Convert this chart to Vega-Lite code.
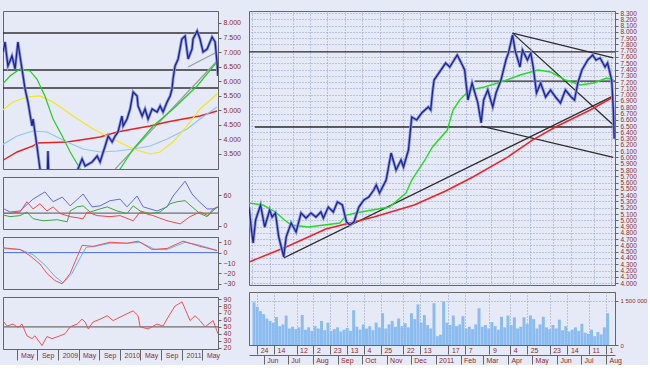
{
"$schema":"https://vega.github.io/schema/vega-lite/v6.json",
"background":"#e6eaf7",
"padding":{"left":1,"top":9,"right":0,"bottom":0},
"spacing":6,
"config":{
 "view":{"stroke":"#666666","strokeWidth":1},
 "axis":{"labelFont":"Liberation Sans","labelFontSize":7,"labelColor":"#8c2a2a","tickColor":"#666666","domainColor":"#666666","tickSize":3,"labelPadding":2,"grid":false,"labelOverlap":false}
},
"datasets":{
 "lp":[{"d":"2008-02-11","v":7000},{"d":"2008-02-23","v":7347},{"d":"2008-03-11","v":6523},{"d":"2008-04-04","v":6866},{"d":"2008-04-22","v":6420},{"d":"2008-05-09","v":7347},{"d":"2008-05-21","v":6866},{"d":"2008-06-02","v":6420},{"d":"2008-06-20","v":5732},{"d":"2008-07-07","v":5286},{"d":"2008-07-31","v":4461},{"d":"2008-08-06","v":4701},{"d":"2008-08-29","v":3774},{"d":"2008-09-16","v":2983},{"d":"2008-10-09","v":2500},{"d":"2008-10-27","v":2200},{"d":"2008-11-02","v":3600},{"d":"2008-11-08","v":2600},{"d":"2008-12-14","v":1900},{"d":"2009-01-25","v":1700},{"d":"2009-03-12","v":2200},{"d":"2009-04-17","v":2700},{"d":"2009-04-29","v":3000},{"d":"2009-05-22","v":3327},{"d":"2009-06-09","v":3087},{"d":"2009-07-20","v":3224},{"d":"2009-08-19","v":3430},{"d":"2009-09-05","v":3224},{"d":"2009-10-05","v":3774},{"d":"2009-10-23","v":4117},{"d":"2009-11-15","v":3911},{"d":"2009-12-03","v":4117},{"d":"2009-12-20","v":4255},{"d":"2010-01-12","v":4804},{"d":"2010-01-19","v":4461},{"d":"2010-02-11","v":4701},{"d":"2010-03-01","v":5045},{"d":"2010-03-19","v":5629},{"d":"2010-04-11","v":5492},{"d":"2010-04-17","v":5148},{"d":"2010-05-11","v":4804},{"d":"2010-05-28","v":5045},{"d":"2010-06-15","v":4701},{"d":"2010-07-09","v":5045},{"d":"2010-08-07","v":4942},{"d":"2010-08-25","v":5148},{"d":"2010-09-11","v":4942},{"d":"2010-10-05","v":5286},{"d":"2010-10-23","v":5492},{"d":"2010-11-03","v":5732},{"d":"2010-11-09","v":6076},{"d":"2010-11-21","v":6523},{"d":"2010-12-09","v":6763},{"d":"2010-12-31","v":7450},{"d":"2011-01-19","v":7553},{"d":"2011-02-06","v":6763},{"d":"2011-03-01","v":7107},{"d":"2011-03-07","v":7450},{"d":"2011-03-31","v":7725},{"d":"2011-04-17","v":7450},{"d":"2011-05-05","v":7004},{"d":"2011-05-29","v":7107},{"d":"2011-06-27","v":7519},{"d":"2011-07-15","v":7347},{"d":"2011-07-26","v":6660},{"d":"2011-08-01","v":6179}],
 "lma":[
  {"s":"MA1","d":"2008-01-24","v":5801},{"s":"MA1","d":"2008-03-23","v":6179},{"s":"MA1","d":"2008-05-21","v":6420},{"s":"MA1","d":"2008-07-19","v":6351},{"s":"MA1","d":"2008-08-29","v":6076},{"s":"MA1","d":"2008-10-15","v":5492},{"s":"MA1","d":"2008-12-02","v":4701},{"s":"MA1","d":"2009-01-25","v":4117},{"s":"MA1","d":"2009-03-13","v":3567},{"s":"MA1","d":"2009-05-11","v":2983},{"s":"MA1","d":"2009-07-08","v":2600},{"s":"MA1","d":"2009-10-17","v":2700},{"s":"MA1","d":"2010-01-01","v":2983},{"s":"MA1","d":"2010-03-19","v":3670},{"s":"MA1","d":"2010-07-15","v":4461},{"s":"MA1","d":"2010-11-09","v":5045},{"s":"MA1","d":"2011-03-31","v":5835},{"s":"MA1","d":"2011-07-26","v":6660},
  {"s":"MA2","d":"2008-01-24","v":4942},{"s":"MA2","d":"2008-04-10","v":5286},{"s":"MA2","d":"2008-07-01","v":5457},{"s":"MA2","d":"2008-09-16","v":5492},{"s":"MA2","d":"2008-12-02","v":5286},{"s":"MA2","d":"2009-03-30","v":4804},{"s":"MA2","d":"2009-07-26","v":4358},{"s":"MA2","d":"2009-11-21","v":4014},{"s":"MA2","d":"2010-03-19","v":3670},{"s":"MA2","d":"2010-06-27","v":3499},{"s":"MA2","d":"2010-08-25","v":3567},{"s":"MA2","d":"2010-11-09","v":3911},{"s":"MA2","d":"2011-01-31","v":4461},{"s":"MA2","d":"2011-04-17","v":5045},{"s":"MA2","d":"2011-07-26","v":5560},
  {"s":"MA3","d":"2008-01-24","v":3774},{"s":"MA3","d":"2008-05-04","v":4117},{"s":"MA3","d":"2008-08-06","v":4289},{"s":"MA3","d":"2008-10-27","v":4255},{"s":"MA3","d":"2009-02-23","v":3911},{"s":"MA3","d":"2009-05-28","v":3670},{"s":"MA3","d":"2009-09-05","v":3567},{"s":"MA3","d":"2009-12-15","v":3602},{"s":"MA3","d":"2010-03-19","v":3670},{"s":"MA3","d":"2010-06-27","v":3774},{"s":"MA3","d":"2010-10-05","v":4014},{"s":"MA3","d":"2011-01-31","v":4358},{"s":"MA3","d":"2011-04-17","v":4701},{"s":"MA3","d":"2011-07-26","v":5114},
  {"s":"MA4","d":"2008-01-24","v":3224},{"s":"MA4","d":"2008-05-04","v":3567},{"s":"MA4","d":"2008-08-06","v":3774},{"s":"MA4","d":"2008-08-29","v":3877},{"s":"MA4","d":"2009-02-23","v":3911},{"s":"MA4","d":"2009-09-05","v":4083},{"s":"MA4","d":"2009-12-15","v":4255},{"s":"MA4","d":"2010-03-19","v":4358},{"s":"MA4","d":"2010-06-27","v":4461},{"s":"MA4","d":"2010-10-05","v":4598},{"s":"MA4","d":"2011-01-07","v":4701},{"s":"MA4","d":"2011-04-17","v":4804},{"s":"MA4","d":"2011-07-26","v":4976}],
 "lrule":[{"k":"level","d":"2008-02-11","d2":"2011-08-01","v":7656,"v2":7656},{"k":"level","d":"2008-02-11","d2":"2011-08-01","v":6385,"v2":6385},{"k":"level","d":"2008-02-11","d2":"2011-08-01","v":5767,"v2":5767},{"k":"trend","d":"2009-12-03","d2":"2011-07-26","v":2983,"v2":6694},{"k":"trend","d":"2011-02-06","d2":"2011-07-26","v":6488,"v2":7004}],
 "adx":[
  {"s":"ADX","d":"2008-01-24","v":37},{"s":"ADX","d":"2008-03-23","v":27},{"s":"ADX","d":"2008-05-21","v":29},{"s":"ADX","d":"2008-08-06","v":52},{"s":"ADX","d":"2008-10-15","v":66},{"s":"ADX","d":"2008-12-02","v":47},{"s":"ADX","d":"2009-01-25","v":56},{"s":"ADX","d":"2009-03-13","v":39},{"s":"ADX","d":"2009-05-28","v":62},{"s":"ADX","d":"2009-07-20","v":37},{"s":"ADX","d":"2009-09-05","v":39},{"s":"ADX","d":"2009-11-03","v":49},{"s":"ADX","d":"2010-01-01","v":52},{"s":"ADX","d":"2010-02-11","v":37},{"s":"ADX","d":"2010-04-11","v":58},{"s":"ADX","d":"2010-05-17","v":37},{"s":"ADX","d":"2010-08-07","v":29},{"s":"ADX","d":"2010-10-05","v":37},{"s":"ADX","d":"2010-11-09","v":58},{"s":"ADX","d":"2011-01-19","v":87},{"s":"ADX","d":"2011-03-01","v":62},{"s":"ADX","d":"2011-04-06","v":49},{"s":"ADX","d":"2011-05-29","v":33},{"s":"ADX","d":"2011-07-15","v":33},{"s":"ADX","d":"2011-08-01","v":37},
  {"s":"+DI","d":"2008-01-24","v":23},{"s":"+DI","d":"2008-03-23","v":18},{"s":"+DI","d":"2008-05-21","v":20},{"s":"+DI","d":"2008-07-01","v":27},{"s":"+DI","d":"2008-08-06","v":14},{"s":"+DI","d":"2008-10-04","v":10},{"s":"+DI","d":"2008-12-26","v":12},{"s":"+DI","d":"2009-02-23","v":8},{"s":"+DI","d":"2009-03-13","v":29},{"s":"+DI","d":"2009-04-23","v":37},{"s":"+DI","d":"2009-05-28","v":39},{"s":"+DI","d":"2009-07-08","v":27},{"s":"+DI","d":"2009-09-05","v":33},{"s":"+DI","d":"2009-10-17","v":37},{"s":"+DI","d":"2009-12-15","v":29},{"s":"+DI","d":"2010-02-11","v":24},{"s":"+DI","d":"2010-03-19","v":39},{"s":"+DI","d":"2010-04-29","v":29},{"s":"+DI","d":"2010-06-27","v":24},{"s":"+DI","d":"2010-08-25","v":27},{"s":"+DI","d":"2010-10-23","v":43},{"s":"+DI","d":"2010-12-03","v":47},{"s":"+DI","d":"2011-01-19","v":49},{"s":"+DI","d":"2011-03-01","v":37},{"s":"+DI","d":"2011-04-17","v":24},{"s":"+DI","d":"2011-05-29","v":18},{"s":"+DI","d":"2011-07-03","v":33},{"s":"+DI","d":"2011-08-01","v":37},
  {"s":"-DI","d":"2008-01-24","v":25},{"s":"-DI","d":"2008-03-23","v":24},{"s":"-DI","d":"2008-05-21","v":27},{"s":"-DI","d":"2008-07-01","v":47},{"s":"-DI","d":"2008-08-06","v":33},{"s":"-DI","d":"2008-09-16","v":43},{"s":"-DI","d":"2008-10-27","v":29},{"s":"-DI","d":"2008-12-02","v":37},{"s":"-DI","d":"2009-01-13","v":24},{"s":"-DI","d":"2009-03-13","v":18},{"s":"-DI","d":"2009-05-28","v":14},{"s":"-DI","d":"2009-06-21","v":27},{"s":"-DI","d":"2009-08-19","v":20},{"s":"-DI","d":"2009-11-03","v":18},{"s":"-DI","d":"2010-01-01","v":20},{"s":"-DI","d":"2010-03-19","v":10},{"s":"-DI","d":"2010-04-29","v":27},{"s":"-DI","d":"2010-07-15","v":20},{"s":"-DI","d":"2010-10-05","v":10},{"s":"-DI","d":"2010-12-21","v":4},{"s":"-DI","d":"2011-02-17","v":18},{"s":"-DI","d":"2011-04-17","v":27},{"s":"-DI","d":"2011-06-04","v":20},{"s":"-DI","d":"2011-07-26","v":37}],
 "macd":[
  {"s":"MACD","d":"2008-01-24","v":4.9},{"s":"MACD","d":"2008-05-21","v":3},{"s":"MACD","d":"2008-07-19","v":-3},{"s":"MACD","d":"2008-09-16","v":-11},{"s":"MACD","d":"2008-10-27","v":-20},{"s":"MACD","d":"2008-12-14","v":-27},{"s":"MACD","d":"2009-01-25","v":-30},{"s":"MACD","d":"2009-03-13","v":-20},{"s":"MACD","d":"2009-04-23","v":-4},{"s":"MACD","d":"2009-05-22","v":7},{"s":"MACD","d":"2009-07-26","v":6},{"s":"MACD","d":"2009-11-03","v":10},{"s":"MACD","d":"2010-02-11","v":9},{"s":"MACD","d":"2010-04-17","v":11},{"s":"MACD","d":"2010-07-09","v":3},{"s":"MACD","d":"2010-10-05","v":4},{"s":"MACD","d":"2011-01-07","v":11},{"s":"MACD","d":"2011-04-17","v":6},{"s":"MACD","d":"2011-07-26","v":2},
  {"s":"Signal","d":"2008-01-24","v":4},{"s":"Signal","d":"2008-05-21","v":3},{"s":"Signal","d":"2008-08-06","v":-2},{"s":"Signal","d":"2008-10-15","v":-12},{"s":"Signal","d":"2008-12-14","v":-23},{"s":"Signal","d":"2009-01-30","v":-29},{"s":"Signal","d":"2009-03-24","v":-20},{"s":"Signal","d":"2009-05-11","v":-5},{"s":"Signal","d":"2009-06-15","v":5},{"s":"Signal","d":"2009-08-07","v":6},{"s":"Signal","d":"2009-11-03","v":9},{"s":"Signal","d":"2010-02-11","v":9},{"s":"Signal","d":"2010-04-29","v":10},{"s":"Signal","d":"2010-07-26","v":3},{"s":"Signal","d":"2010-10-05","v":3},{"s":"Signal","d":"2011-01-19","v":10},{"s":"Signal","d":"2011-04-17","v":7},{"s":"Signal","d":"2011-07-26","v":2}],
 "rsi":[{"d":"2008-01-24","v":64},{"d":"2008-03-06","v":51},{"d":"2008-04-10","v":54},{"d":"2008-05-09","v":49},{"d":"2008-06-02","v":54},{"d":"2008-07-01","v":37},{"d":"2008-07-31","v":33},{"d":"2008-08-17","v":37},{"d":"2008-09-28","v":23},{"d":"2008-10-27","v":36},{"d":"2008-11-26","v":33},{"d":"2009-01-01","v":36},{"d":"2009-02-11","v":40},{"d":"2009-03-13","v":50},{"d":"2009-04-23","v":54},{"d":"2009-05-22","v":61},{"d":"2009-06-09","v":57},{"d":"2009-06-27","v":47},{"d":"2009-07-26","v":57},{"d":"2009-09-05","v":61},{"d":"2009-10-17","v":66},{"d":"2009-11-21","v":59},{"d":"2010-01-01","v":64},{"d":"2010-02-11","v":69},{"d":"2010-03-19","v":73},{"d":"2010-04-17","v":66},{"d":"2010-04-29","v":50},{"d":"2010-06-15","v":47},{"d":"2010-08-07","v":54},{"d":"2010-09-11","v":51},{"d":"2010-10-11","v":64},{"d":"2010-11-21","v":80},{"d":"2011-01-01","v":86},{"d":"2011-01-31","v":69},{"d":"2011-02-17","v":59},{"d":"2011-03-19","v":66},{"d":"2011-04-17","v":59},{"d":"2011-05-17","v":50},{"d":"2011-07-03","v":59},{"d":"2011-07-26","v":44},{"d":"2011-08-01","v":40}],
 "rp":[{"d":"2010-05-20","v":5211},{"d":"2010-05-23","v":4845},{"d":"2010-05-25","v":4638},{"d":"2010-05-28","v":5005},{"d":"2010-06-03","v":5243},{"d":"2010-06-08","v":4893},{"d":"2010-06-14","v":5164},{"d":"2010-06-17","v":5052},{"d":"2010-06-21","v":5116},{"d":"2010-06-25","v":4734},{"d":"2010-07-01","v":4420},{"d":"2010-07-04","v":4734},{"d":"2010-07-10","v":4957},{"d":"2010-07-16","v":4814},{"d":"2010-07-22","v":5116},{"d":"2010-07-28","v":5036},{"d":"2010-08-03","v":5116},{"d":"2010-08-09","v":5052},{"d":"2010-08-15","v":5132},{"d":"2010-08-18","v":5036},{"d":"2010-08-24","v":5211},{"d":"2010-08-30","v":5132},{"d":"2010-09-04","v":5291},{"d":"2010-09-10","v":5243},{"d":"2010-09-15","v":4973},{"d":"2010-09-19","v":4925},{"d":"2010-09-24","v":4973},{"d":"2010-09-30","v":5211},{"d":"2010-10-06","v":5323},{"d":"2010-10-12","v":5371},{"d":"2010-10-18","v":5482},{"d":"2010-10-21","v":5562},{"d":"2010-10-25","v":5434},{"d":"2010-11-02","v":5641},{"d":"2010-11-08","v":6071},{"d":"2010-11-14","v":5800},{"d":"2010-11-20","v":5960},{"d":"2010-11-23","v":5848},{"d":"2010-11-29","v":6119},{"d":"2010-12-03","v":6644},{"d":"2010-12-09","v":6597},{"d":"2010-12-15","v":6708},{"d":"2010-12-23","v":6804},{"d":"2010-12-26","v":6756},{"d":"2010-12-28","v":7026},{"d":"2010-12-30","v":7233},{"d":"2011-01-13","v":7504},{"d":"2011-01-18","v":7440},{"d":"2011-01-21","v":7504},{"d":"2011-01-27","v":7631},{"d":"2011-02-01","v":7504},{"d":"2011-02-05","v":7393},{"d":"2011-02-09","v":6915},{"d":"2011-02-14","v":7186},{"d":"2011-02-21","v":6867},{"d":"2011-02-25","v":6550},{"d":"2011-02-28","v":6915},{"d":"2011-03-05","v":7074},{"d":"2011-03-11","v":6804},{"d":"2011-03-15","v":7026},{"d":"2011-03-21","v":7233},{"d":"2011-03-27","v":7552},{"d":"2011-03-30","v":7663},{"d":"2011-04-04","v":7950},{"d":"2011-04-07","v":7711},{"d":"2011-04-13","v":7440},{"d":"2011-04-16","v":7711},{"d":"2011-04-22","v":7552},{"d":"2011-04-26","v":7663},{"d":"2011-04-29","v":7440},{"d":"2011-05-03","v":7026},{"d":"2011-05-08","v":7186},{"d":"2011-05-14","v":6963},{"d":"2011-05-20","v":7074},{"d":"2011-05-26","v":6963},{"d":"2011-06-01","v":6867},{"d":"2011-06-07","v":7074},{"d":"2011-06-14","v":6963},{"d":"2011-06-18","v":6915},{"d":"2011-06-22","v":7186},{"d":"2011-06-27","v":7393},{"d":"2011-07-04","v":7552},{"d":"2011-07-10","v":7631},{"d":"2011-07-14","v":7552},{"d":"2011-07-19","v":7584},{"d":"2011-07-25","v":7440},{"d":"2011-07-28","v":7504},{"d":"2011-08-02","v":7233},{"d":"2011-08-04","v":6756},{"d":"2011-08-05","v":6300}],
 "rma":[
  {"s":"MA1","d":"2010-05-20","v":5275},{"s":"MA1","d":"2010-06-06","v":5243},{"s":"MA1","d":"2010-06-21","v":5132},{"s":"MA1","d":"2010-07-02","v":5005},{"s":"MA1","d":"2010-07-10","v":4925},{"s":"MA1","d":"2010-07-31","v":4893},{"s":"MA1","d":"2010-08-19","v":4925},{"s":"MA1","d":"2010-09-07","v":4957},{"s":"MA1","d":"2010-09-15","v":5084},{"s":"MA1","d":"2010-09-26","v":5116},{"s":"MA1","d":"2010-10-16","v":5164},{"s":"MA1","d":"2010-11-06","v":5211},{"s":"MA1","d":"2010-11-26","v":5434},{"s":"MA1","d":"2010-12-03","v":5641},{"s":"MA1","d":"2010-12-19","v":5960},{"s":"MA1","d":"2010-12-28","v":6167},{"s":"MA1","d":"2011-01-15","v":6437},{"s":"MA1","d":"2011-01-22","v":6756},{"s":"MA1","d":"2011-01-30","v":6915},{"s":"MA1","d":"2011-02-11","v":7074},{"s":"MA1","d":"2011-03-01","v":7122},{"s":"MA1","d":"2011-03-21","v":7202},{"s":"MA1","d":"2011-04-13","v":7313},{"s":"MA1","d":"2011-05-05","v":7393},{"s":"MA1","d":"2011-05-20","v":7361},{"s":"MA1","d":"2011-06-07","v":7233},{"s":"MA1","d":"2011-06-25","v":7154},{"s":"MA1","d":"2011-07-11","v":7186},{"s":"MA1","d":"2011-07-27","v":7265},{"s":"MA1","d":"2011-08-04","v":7233},
  {"s":"MA2","d":"2010-05-20","v":4336},{"s":"MA2","d":"2010-07-04","v":4575},{"s":"MA2","d":"2010-08-21","v":4861},{"s":"MA2","d":"2010-10-18","v":5052},{"s":"MA2","d":"2010-12-06","v":5243},{"s":"MA2","d":"2011-01-13","v":5466},{"s":"MA2","d":"2011-02-15","v":5689},{"s":"MA2","d":"2011-03-29","v":6007},{"s":"MA2","d":"2011-04-28","v":6278},{"s":"MA2","d":"2011-05-26","v":6485},{"s":"MA2","d":"2011-07-07","v":6756},{"s":"MA2","d":"2011-08-04","v":6963}],
 "rrule":[{"k":"level","d":"2010-05-20","d2":"2011-08-06","v":7680,"v2":7680},{"k":"level","d":"2010-05-27","d2":"2011-08-06","v":6485,"v2":6485},{"k":"level","d":"2011-02-17","d2":"2011-08-06","v":7217,"v2":7217},{"k":"trend","d":"2010-07-01","d2":"2011-08-04","v":4400,"v2":6980},{"k":"trend","d":"2011-04-04","d2":"2011-08-04","v":7980,"v2":7584},{"k":"trend","d":"2011-04-04","d2":"2011-08-04","v":7980,"v2":6517},{"k":"trend","d":"2011-02-25","d2":"2011-08-04","v":6500,"v2":6000}],
 "vol":[{"d":"2010-05-20","v":1450000},{"d":"2010-05-24","v":1300000},{"d":"2010-05-28","v":1150000},{"d":"2010-06-01","v":1050000},{"d":"2010-06-05","v":900000},{"d":"2010-06-09","v":820000},{"d":"2010-06-13","v":760000},{"d":"2010-06-17","v":950000},{"d":"2010-06-21","v":640000},{"d":"2010-06-25","v":700000},{"d":"2010-06-29","v":1000000},{"d":"2010-07-03","v":560000},{"d":"2010-07-07","v":620000},{"d":"2010-07-11","v":540000},{"d":"2010-07-15","v":600000},{"d":"2010-07-19","v":1020000},{"d":"2010-07-23","v":520000},{"d":"2010-07-27","v":600000},{"d":"2010-07-31","v":480000},{"d":"2010-08-04","v":640000},{"d":"2010-08-08","v":560000},{"d":"2010-08-12","v":820000},{"d":"2010-08-16","v":500000},{"d":"2010-08-20","v":760000},{"d":"2010-08-24","v":480000},{"d":"2010-08-28","v":540000},{"d":"2010-09-01","v":600000},{"d":"2010-09-05","v":460000},{"d":"2010-09-09","v":520000},{"d":"2010-09-13","v":580000},{"d":"2010-09-17","v":480000},{"d":"2010-09-21","v":1180000},{"d":"2010-09-25","v":620000},{"d":"2010-09-29","v":520000},{"d":"2010-10-03","v":700000},{"d":"2010-10-07","v":560000},{"d":"2010-10-11","v":640000},{"d":"2010-10-15","v":500000},{"d":"2010-10-19","v":760000},{"d":"2010-10-23","v":600000},{"d":"2010-10-27","v":1080000},{"d":"2010-10-31","v":560000},{"d":"2010-11-04","v":700000},{"d":"2010-11-08","v":820000},{"d":"2010-11-12","v":620000},{"d":"2010-11-16","v":900000},{"d":"2010-11-20","v":640000},{"d":"2010-11-24","v":740000},{"d":"2010-11-28","v":600000},{"d":"2010-12-02","v":1080000},{"d":"2010-12-06","v":880000},{"d":"2010-12-10","v":1380000},{"d":"2010-12-14","v":760000},{"d":"2010-12-18","v":1020000},{"d":"2010-12-22","v":680000},{"d":"2010-12-26","v":560000},{"d":"2010-12-30","v":1420000},{"d":"2011-01-03","v":300000},{"d":"2011-01-07","v":350000},{"d":"2011-01-11","v":1480000},{"d":"2011-01-15","v":760000},{"d":"2011-01-19","v":680000},{"d":"2011-01-23","v":1000000},{"d":"2011-01-27","v":640000},{"d":"2011-01-31","v":700000},{"d":"2011-02-04","v":980000},{"d":"2011-02-08","v":560000},{"d":"2011-02-12","v":620000},{"d":"2011-02-16","v":540000},{"d":"2011-02-20","v":700000},{"d":"2011-02-24","v":1250000},{"d":"2011-02-28","v":620000},{"d":"2011-03-04","v":680000},{"d":"2011-03-08","v":560000},{"d":"2011-03-12","v":780000},{"d":"2011-03-16","v":640000},{"d":"2011-03-20","v":520000},{"d":"2011-03-24","v":960000},{"d":"2011-03-28","v":600000},{"d":"2011-04-01","v":1000000},{"d":"2011-04-05","v":680000},{"d":"2011-04-09","v":940000},{"d":"2011-04-13","v":560000},{"d":"2011-04-17","v":620000},{"d":"2011-04-21","v":940000},{"d":"2011-04-25","v":720000},{"d":"2011-04-29","v":1000000},{"d":"2011-05-03","v":880000},{"d":"2011-05-07","v":560000},{"d":"2011-05-11","v":700000},{"d":"2011-05-15","v":960000},{"d":"2011-05-19","v":600000},{"d":"2011-05-23","v":540000},{"d":"2011-05-27","v":680000},{"d":"2011-05-31","v":560000},{"d":"2011-06-04","v":860000},{"d":"2011-06-08","v":500000},{"d":"2011-06-12","v":640000},{"d":"2011-06-16","v":460000},{"d":"2011-06-20","v":520000},{"d":"2011-06-24","v":600000},{"d":"2011-06-28","v":480000},{"d":"2011-07-02","v":720000},{"d":"2011-07-06","v":420000},{"d":"2011-07-10","v":380000},{"d":"2011-07-14","v":520000},{"d":"2011-07-18","v":300000},{"d":"2011-07-22","v":440000},{"d":"2011-07-26","v":360000},{"d":"2011-07-30","v":600000},{"d":"2011-08-03","v":1080000}]
},
"hconcat":[
 {"bounds":"flush","spacing":8,"vconcat":[
  {"width":215,"height":158,
   "encoding":{
    "x":{"field":"d","type":"temporal","title":null,"scale":{"domain":[{"year":2008,"month":2,"date":11},{"year":2011,"month":8,"date":1}]},"axis":null},
    "y":{"field":"v","type":"quantitative","title":null,"scale":{"domain":[2983,8412]},"axis":{"orient":"right","values":[3500,4000,4500,5000,5500,6000,6500,7000,7500,8000],"labelExpr":"replace(format(datum.value, ','), ',', '.')"}}
   },
   "layer":[
    {"data":{"name":"lrule"},"transform":[{"filter":"datum.k == 'level'"}],"mark":{"type":"rule","clip":true,"strokeWidth":1.3,"color":"#333333"},"encoding":{"x2":{"field":"d2"},"y2":{"field":"v2"}}},
    {"data":{"name":"lrule"},"transform":[{"filter":"datum.k == 'trend'"}],"mark":{"type":"rule","clip":true,"strokeWidth":1.2,"color":"#9c9c9c"},"encoding":{"x2":{"field":"d2"},"y2":{"field":"v2"}}},
    {"data":{"name":"lma"},"transform":[{"filter":"datum.s == 'MA4'"}],"mark":{"type":"line","clip":true,"strokeWidth":1.4,"color":"#e82020"}},
    {"data":{"name":"lma"},"transform":[{"filter":"datum.s == 'MA3'"}],"mark":{"type":"line","clip":true,"strokeWidth":1.2,"color":"#8ec5f5"}},
    {"data":{"name":"lma"},"transform":[{"filter":"datum.s == 'MA2'"}],"mark":{"type":"line","clip":true,"strokeWidth":1.2,"color":"#f2e61c"}},
    {"data":{"name":"lma"},"transform":[{"filter":"datum.s == 'MA1'"}],"mark":{"type":"line","clip":true,"strokeWidth":1.2,"color":"#22cc22"}},
    {"data":{"name":"lp"},"mark":{"type":"line","clip":true,"strokeWidth":3,"color":"#8d97dd"}},
    {"data":{"name":"lp"},"mark":{"type":"line","clip":true,"strokeWidth":1.3,"color":"#1a2496"}}
   ]
  },
  {"width":215,"height":52,
   "encoding":{
    "x":{"field":"d","type":"temporal","title":null,"scale":{"domain":[{"year":2008,"month":2,"date":11},{"year":2011,"month":8,"date":1}]},"axis":null},
    "y":{"field":"v","type":"quantitative","title":null,"scale":{"domain":[-6,95]},"axis":{"orient":"right","values":[0,60]}}
   },
   "layer":[
    {"data":{"values":[{"d":"2008-02-11","d2":"2011-08-01","v":25}]},"mark":{"type":"rule","color":"#707070","strokeWidth":1.2},"encoding":{"x2":{"field":"d2"}}},
    {"data":{"name":"adx"},"transform":[{"filter":"datum.s == 'ADX'"}],"mark":{"type":"line","clip":true,"strokeWidth":1,"color":"#5b6cf0"}},
    {"data":{"name":"adx"},"transform":[{"filter":"datum.s == '+DI'"}],"mark":{"type":"line","clip":true,"strokeWidth":1,"color":"#3da53d"}},
    {"data":{"name":"adx"},"transform":[{"filter":"datum.s == '-DI'"}],"mark":{"type":"line","clip":true,"strokeWidth":1,"color":"#f04848"}}
   ]
  },
  {"width":215,"height":52,
   "encoding":{
    "x":{"field":"d","type":"temporal","title":null,"scale":{"domain":[{"year":2008,"month":2,"date":11},{"year":2011,"month":8,"date":1}]},"axis":null},
    "y":{"field":"v","type":"quantitative","title":null,"scale":{"domain":[-35,15]},"axis":{"orient":"right","values":[10,0,-10,-20,-30]}}
   },
   "layer":[
    {"data":{"values":[{"d":"2008-02-11","d2":"2011-08-01","v":0}]},"mark":{"type":"rule","color":"#4a6ee0","strokeWidth":1},"encoding":{"x2":{"field":"d2"}}},
    {"data":{"name":"macd"},"transform":[{"filter":"datum.s == 'Signal'"}],"mark":{"type":"line","clip":true,"strokeWidth":1,"color":"#62b2f2"}},
    {"data":{"name":"macd"},"transform":[{"filter":"datum.s == 'MACD'"}],"mark":{"type":"line","clip":true,"strokeWidth":1,"color":"#f05050"}}
   ]
  },
  {"width":215,"height":52,
   "encoding":{
    "x":{"field":"d","type":"temporal","title":null,"scale":{"domain":[{"year":2008,"month":2,"date":11},{"year":2011,"month":8,"date":1}]},"axis":{"orient":"bottom","values":[{"year":2008,"month":5,"date":1},{"year":2008,"month":9,"date":1},{"year":2009,"month":1,"date":1},{"year":2009,"month":5,"date":1},{"year":2009,"month":9,"date":1},{"year":2010,"month":1,"date":1},{"year":2010,"month":5,"date":1},{"year":2010,"month":9,"date":1},{"year":2011,"month":1,"date":1},{"year":2011,"month":5,"date":1}],"labelExpr":"month(datum.value) == 0 ? timeFormat(datum.value, '%Y') : timeFormat(datum.value, '%b')","tickSize":11,"labelPadding":-9,"labelAlign":"left","labelOffset":4,"labelBaseline":"top"}},
    "y":{"field":"v","type":"quantitative","title":null,"scale":{"domain":[18,93]},"axis":{"orient":"right","values":[20,30,40,50,60,70,80,90]}}
   },
   "layer":[
    {"data":{"values":[{"d":"2008-02-11","d2":"2011-08-01","v":50}]},"mark":{"type":"rule","color":"#707070","strokeWidth":1.2},"encoding":{"x2":{"field":"d2"}}},
    {"data":{"name":"rsi"},"mark":{"type":"line","clip":true,"strokeWidth":1,"color":"#f05050"}}
   ]
  }
 ]},
 {"bounds":"flush","spacing":7,"vconcat":[
  {"width":366,"height":274,
   "encoding":{
    "x":{"field":"d","type":"temporal","title":null,"scale":{"domain":[{"year":2010,"month":5,"date":20},{"year":2011,"month":8,"date":6}]},"axis":{"values":[{"year":2010,"month":5,"date":24},{"year":2010,"month":6,"date":14},{"year":2010,"month":7,"date":12},{"year":2010,"month":8,"date":2},{"year":2010,"month":8,"date":23},{"year":2010,"month":9,"date":13},{"year":2010,"month":10,"date":4},{"year":2010,"month":10,"date":25},{"year":2010,"month":11,"date":22},{"year":2010,"month":12,"date":13},{"year":2011,"month":1,"date":17},{"year":2011,"month":2,"date":7},{"year":2011,"month":3,"date":9},{"year":2011,"month":4,"date":4},{"year":2011,"month":4,"date":25},{"year":2011,"month":5,"date":23},{"year":2011,"month":6,"date":14},{"year":2011,"month":7,"date":11},{"year":2011,"month":8,"date":1}],"labels":false,"ticks":false,"domain":false,"grid":true,"gridColor":"#8e9ad0","gridDash":[1,2]}},
    "y":{"field":"v","type":"quantitative","title":null,"scale":{"domain":[3970,8332]},"axis":{"orient":"right","values":[4000,4100,4200,4300,4400,4500,4600,4700,4800,4900,5000,5100,5200,5300,5400,5500,5600,5700,5800,5900,6000,6100,6200,6300,6400,6500,6600,6700,6800,6900,7000,7100,7200,7300,7400,7500,7600,7700,7800,7900,8000,8100,8200,8300],"labelExpr":"replace(format(datum.value, ','), ',', '.')","labelFontSize":6.5,"grid":true,"gridColor":"#8e9ad0","gridDash":[1,2]}}
   },
   "layer":[
    {"data":{"name":"rrule"},"mark":{"type":"rule","clip":true,"strokeWidth":1.3,"color":"#2e2e2e"},"encoding":{"x2":{"field":"d2"},"y2":{"field":"v2"}}},
    {"data":{"name":"rma"},"transform":[{"filter":"datum.s == 'MA2'"}],"mark":{"type":"line","clip":true,"strokeWidth":1.5,"color":"#ee2222"}},
    {"data":{"name":"rma"},"transform":[{"filter":"datum.s == 'MA1'"}],"mark":{"type":"line","clip":true,"strokeWidth":1.4,"color":"#22dd22"}},
    {"data":{"name":"rp"},"mark":{"type":"line","clip":true,"strokeWidth":3,"color":"#8d97dd"}},
    {"data":{"name":"rp"},"mark":{"type":"line","clip":true,"strokeWidth":1.3,"color":"#1a2496"}}
   ]
  },
  {"width":366,"height":53,
   "layer":[
    {"data":{"name":"vol"},"mark":{"type":"bar","size":3,"color":"#8bbcf0","clip":true},
     "encoding":{
      "x":{"field":"d","type":"temporal","title":null,"scale":{"domain":[{"year":2010,"month":5,"date":20},{"year":2011,"month":8,"date":6}]},"axis":{"orient":"bottom","values":[{"year":2010,"month":5,"date":24},{"year":2010,"month":6,"date":14},{"year":2010,"month":7,"date":12},{"year":2010,"month":8,"date":2},{"year":2010,"month":8,"date":23},{"year":2010,"month":9,"date":13},{"year":2010,"month":10,"date":4},{"year":2010,"month":10,"date":25},{"year":2010,"month":11,"date":22},{"year":2010,"month":12,"date":13},{"year":2011,"month":1,"date":17},{"year":2011,"month":2,"date":7},{"year":2011,"month":3,"date":9},{"year":2011,"month":4,"date":4},{"year":2011,"month":4,"date":25},{"year":2011,"month":5,"date":23},{"year":2011,"month":6,"date":14},{"year":2011,"month":7,"date":11},{"year":2011,"month":8,"date":1}],"format":"%-d","tickSize":9,"labelPadding":-8,"labelAlign":"left","labelOffset":3,"labelBaseline":"top","grid":true,"gridColor":"#8e9ad0","gridDash":[1,2]}},
      "y":{"field":"v","type":"quantitative","title":null,"scale":{"domain":[0,1766000]},"axis":{"orient":"right","values":[0,500000,1000000,1500000],"labelFontSize":6,"labelExpr":"datum.value == 1500000 ? '1 500 000' : datum.value == 1000000 ? '1 000 000' : datum.value == 500000 ? '500 000' : '0'","grid":true,"gridColor":"#8e9ad0","gridDash":[1,2]}}
     }},
    {"data":{"name":"vol"},"mark":{"type":"bar","size":3,"opacity":0,"clip":true},
     "encoding":{
      "x":{"field":"d","type":"temporal","title":null,"scale":{"domain":[{"year":2010,"month":5,"date":20},{"year":2011,"month":8,"date":6}]},"axis":{"orient":"bottom","offset":10,"values":[{"year":2010,"month":6,"date":1},{"year":2010,"month":7,"date":1},{"year":2010,"month":8,"date":1},{"year":2010,"month":9,"date":1},{"year":2010,"month":10,"date":1},{"year":2010,"month":11,"date":1},{"year":2010,"month":12,"date":1},{"year":2011,"month":1,"date":1},{"year":2011,"month":2,"date":1},{"year":2011,"month":3,"date":1},{"year":2011,"month":4,"date":1},{"year":2011,"month":5,"date":1},{"year":2011,"month":6,"date":1},{"year":2011,"month":7,"date":1},{"year":2011,"month":8,"date":1}],"labelExpr":"month(datum.value) == 0 ? timeFormat(datum.value, '%Y') : timeFormat(datum.value, '%b')","tickSize":9,"labelPadding":-8,"labelAlign":"left","labelOffset":3,"labelBaseline":"top","grid":false}},
      "y":{"field":"v","type":"quantitative","title":null}
     }}
   ],
   "resolve":{"axis":{"x":"independent"}}
  }
 ]}
]
}
